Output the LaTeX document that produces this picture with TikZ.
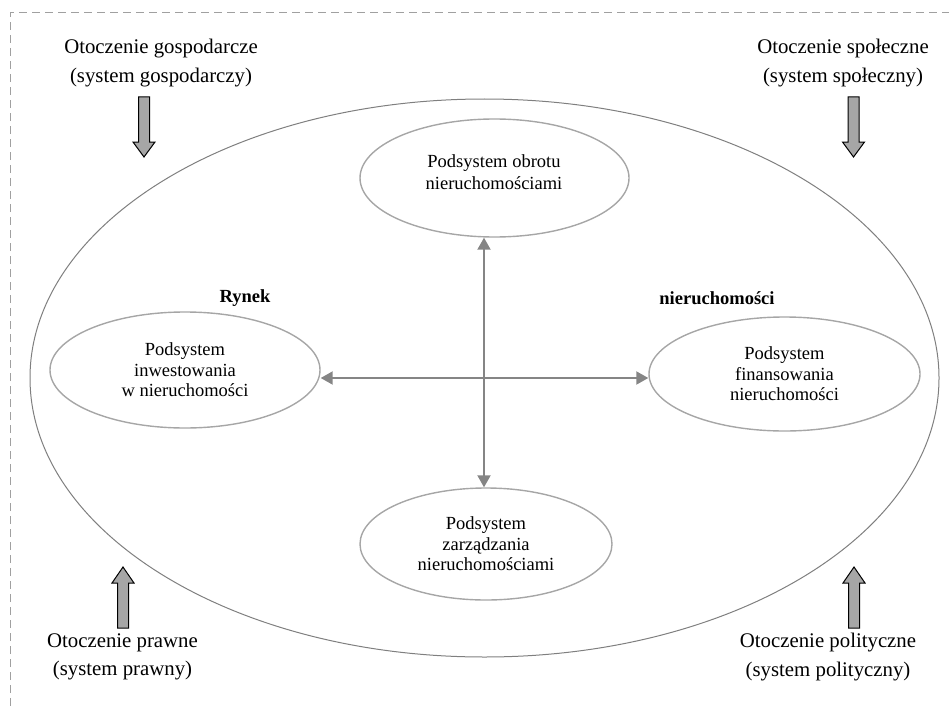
\documentclass[tikz,border=0pt]{standalone}
\usepackage{fontspec}
\setmainfont{Liberation Serif}
\usetikzlibrary{shapes.geometric,arrows.meta}
\definecolor{framegray}{HTML}{A0A0A0}
\definecolor{ellgray}{HTML}{A6A6A6}
\definecolor{biggray}{HTML}{7F7F7F}
\definecolor{conngray}{HTML}{858585}
\definecolor{blockfill}{HTML}{A6A6A6}
\tikzset{
  subsys/.style={draw=ellgray, line width=1.4pt, ellipse, inner sep=0pt, align=center,
    font=\fontsize{18.5}{20.5}\selectfont},
  subtext/.style={align=center, inner sep=0pt, font=\fontsize{18.5}{21.5}\selectfont},
  outertext/.style={align=center, font=\fontsize{20.8}{28.5}\selectfont, inner sep=0pt},
  marketlabel/.style={font=\fontsize{18.5}{20.5}\selectfont\bfseries, inner sep=0pt},
  conn/.style={draw=conngray, line width=2pt, {Triangle[length=12pt,width=13pt]}-{Triangle[length=12pt,width=13pt]}},
  blockarrow/.style={draw=black, line width=1pt, fill=blockfill, line join=miter},
  downarr/.pic={\path[blockarrow] (-5.5,0) -- (-5.5,45) -- (-11,45) -- (0,60) -- (11,45) -- (5.5,45) -- (5.5,0) -- cycle;},
  uparr/.pic={\path[blockarrow] (0,0) -- (11,16) -- (5.5,16) -- (5.5,61) -- (-5.5,61) -- (-5.5,16) -- (-11,16) -- cycle;}
}
\begin{document}
\begin{tikzpicture}[x=1pt,y=-1pt]
\useasboundingbox (0,0) rectangle (949,706);
% dashed frame
\draw[framegray, line width=1pt, dash pattern=on 8pt off 5pt] (10,706) -- (10,13) -- (949,13);
% market ellipse
\node[draw=biggray, line width=1pt, ellipse, inner sep=0pt, minimum width=909pt, minimum height=558pt] (market) at (484.5,378) {};
\node[marketlabel] (rynek) at (245,298) {Rynek};
\node[marketlabel] (nier) at (717,298) {nieruchomości};
% subsystems
\node[subsys, minimum width=269pt, minimum height=118pt] (top) at (494.5,178) {};
\node[subtext] (toptext) at (494,172) {Podsystem obrotu\\nieruchomościami};
\node[subsys, minimum width=270pt, minimum height=116pt] (left) at (185,370) {Podsystem\\inwestowania\\w nieruchomości};
\node[subsys, minimum width=271pt, minimum height=114pt] (right) at (784.5,374) {Podsystem\\finansowania\\nieruchomości};
\node[subsys, minimum width=252pt, minimum height=112pt] (bot) at (486,544) {Podsystem\\zarządzania\\nieruchomościami};
% connectors
\coordinate (vx) at (484,0);
\draw[conn] (vx |- top.south) -- (vx |- bot.north);
\draw[conn] (left.east |- 0,378) -- (right.west |- 0,378);
% environments
\node[outertext] (gosp) at (161,63) {Otoczenie gospodarcze\\(system gospodarczy)};
\node[outertext] (spol) at (843,63) {Otoczenie społeczne\\(system społeczny)};
\node[outertext] (praw) at (122.5,657) {Otoczenie prawne\\(system prawny)};
\node[outertext] (poli) at (828,657) {Otoczenie polityczne\\(system polityczny)};
\pic at (144,97) {downarr};
\pic at (853.5,97) {downarr};
\pic at (123,567) {uparr};
\pic at (854,567) {uparr};
\end{tikzpicture}
\end{document}
